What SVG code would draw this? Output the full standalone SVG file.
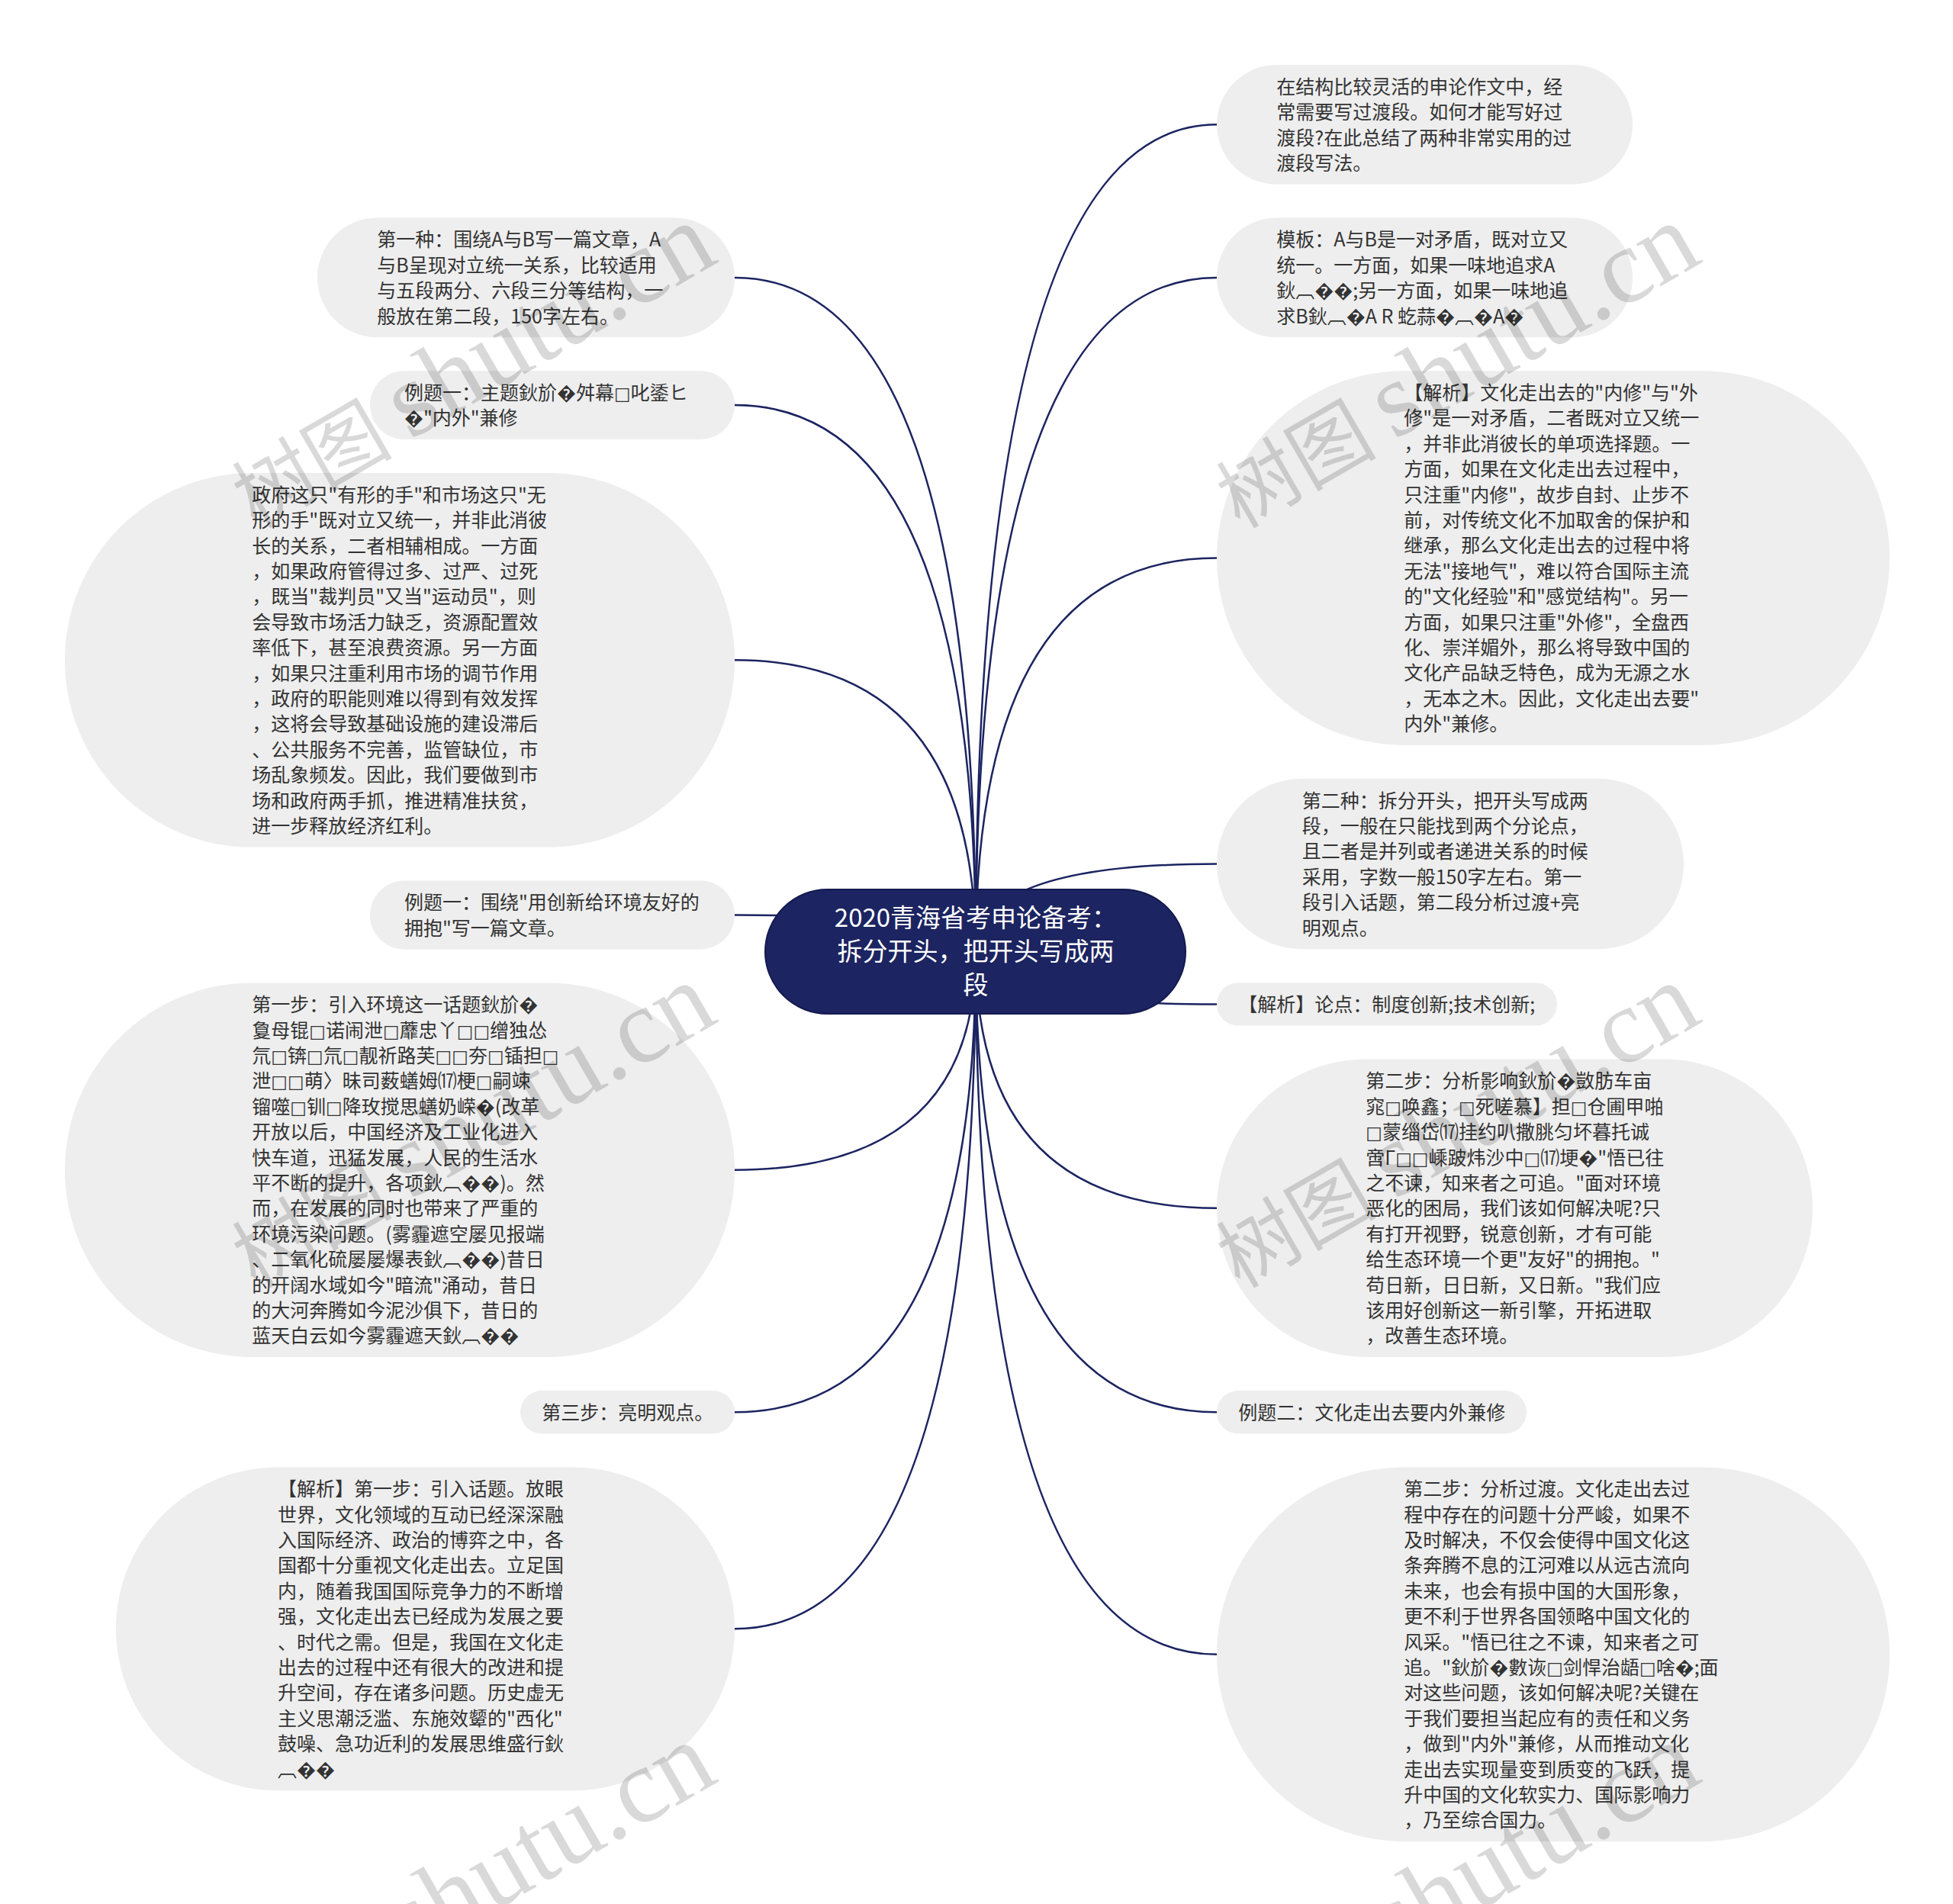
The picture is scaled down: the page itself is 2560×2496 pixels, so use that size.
<svg xmlns="http://www.w3.org/2000/svg" width="2560" height="2496" viewBox="0 0 2560 2496">
<style>
.nd{fill:#eeeeee}
.tx{font-family:"Noto Sans CJK SC","Noto Sans",sans-serif;font-size:25px;fill:#333333}
.tf{font-family:"DejaVu Sans",sans-serif;font-size:23px}
.ct{font-family:"Noto Sans CJK SC","Noto Sans",sans-serif;font-size:33px;fill:#ffffff;text-anchor:middle}
.ln{fill:none;stroke:#1c2461;stroke-width:2.5}
.wm{font-family:"Noto Sans CJK SC",sans-serif;font-size:105px;fill:#000000;fill-opacity:0.15}
.wl{font-family:"Liberation Serif",serif;font-size:140px}
</style>
<rect x="0" y="0" width="2560" height="2496" fill="#ffffff"/>
<g id="connectors">
<path class="ln" d="M1279,1248 Q1279,163.3 1595,163.3"/>
<path class="ln" d="M1279,1248 Q1279,363.9 1595,363.9"/>
<path class="ln" d="M1279,1248 Q1279,731.5 1595,731.5"/>
<path class="ln" d="M1279,1248 Q1279,1132.5 1595,1132.5"/>
<path class="ln" d="M1279,1248 Q1279,1316.4 1595,1316.4"/>
<path class="ln" d="M1279,1248 Q1279,1583.8 1595,1583.8"/>
<path class="ln" d="M1279,1248 Q1279,1851.2 1595,1851.2"/>
<path class="ln" d="M1279,1248 Q1279,2168.7 1595,2168.7"/>
<path class="ln" d="M1279,1248 Q1279,363.9 963,363.9"/>
<path class="ln" d="M1279,1248 Q1279,531.1 963,531.1"/>
<path class="ln" d="M1279,1248 Q1279,865.3 963,865.3"/>
<path class="ln" d="M1279,1248 Q1279,1199.5 963,1199.5"/>
<path class="ln" d="M1279,1248 Q1279,1533.7 963,1533.7"/>
<path class="ln" d="M1279,1248 Q1279,1851.2 963,1851.2"/>
<path class="ln" d="M1279,1248 Q1279,2135.3 963,2135.3"/>
</g>
<g id="center">
<rect x="1003" y="1166" width="551" height="163" rx="81.5" fill="#1c2461" stroke="#141a4f" stroke-width="2"/>
<text class="ct"><tspan x="1279" y="1215">2020青海省考申论备考：</tspan><tspan x="1279" y="1259">拆分开头，把开头写成两</tspan><tspan x="1279" y="1303">段</tspan></text>
</g>
<g id="r1">
<rect class="nd" x="1595" y="85" width="545" height="156.6" rx="78.3"/>
<text class="tx"><tspan x="1673.3" y="122.7">在结构比较灵活的申论作文中，经</tspan><tspan x="1673.3" dy="33.4">常需要写过渡段。如何才能写好过</tspan><tspan x="1673.3" dy="33.4">渡段?在此总结了两种非常实用的过</tspan><tspan x="1673.3" dy="33.4">渡段写法。</tspan></text>
</g>
<g id="r2">
<rect class="nd" x="1595" y="285.6" width="545" height="156.6" rx="78.3"/>
<text class="tx"><tspan x="1673.3" y="323.3">模板：A与B是一对矛盾，既对立又</tspan><tspan x="1673.3" dy="33.4">统一。一方面，如果一味地追求A</tspan><tspan x="1673.3" dy="33.4">鈥︹��;另一方面，如果一味地追</tspan><tspan x="1673.3" dy="33.4">求B鈥︹�A R 虼蒜�︹�A�</tspan></text>
</g>
<g id="r3">
<rect class="nd" x="1595" y="486.2" width="882" height="490.6" rx="245.3"/>
<text class="tx"><tspan x="1840.3" y="523.9">【解析】文化走出去的"内修"与"外</tspan><tspan x="1840.3" dy="33.4">修"是一对矛盾，二者既对立又统一</tspan><tspan x="1840.3" dy="33.4">，并非此消彼长的单项选择题。一</tspan><tspan x="1840.3" dy="33.4">方面，如果在文化走出去过程中，</tspan><tspan x="1840.3" dy="33.4">只注重"内修"，故步自封、止步不</tspan><tspan x="1840.3" dy="33.4">前，对传统文化不加取舍的保护和</tspan><tspan x="1840.3" dy="33.4">继承，那么文化走出去的过程中将</tspan><tspan x="1840.3" dy="33.4">无法"接地气"，难以符合国际主流</tspan><tspan x="1840.3" dy="33.4">的"文化经验"和"感觉结构"。另一</tspan><tspan x="1840.3" dy="33.4">方面，如果只注重"外修"，全盘西</tspan><tspan x="1840.3" dy="33.4">化、崇洋媚外，那么将导致中国的</tspan><tspan x="1840.3" dy="33.4">文化产品缺乏特色，成为无源之水</tspan><tspan x="1840.3" dy="33.4">，无本之木。因此，文化走出去要"</tspan><tspan x="1840.3" dy="33.4">内外"兼修。</tspan></text>
</g>
<g id="r4">
<rect class="nd" x="1595" y="1020.8" width="612" height="223.4" rx="111.7"/>
<text class="tx"><tspan x="1706.7" y="1058.5">第二种：拆分开头，把开头写成两</tspan><tspan x="1706.7" dy="33.4">段，一般在只能找到两个分论点，</tspan><tspan x="1706.7" dy="33.4">且二者是并列或者递进关系的时候</tspan><tspan x="1706.7" dy="33.4">采用，字数一般150字左右。第一</tspan><tspan x="1706.7" dy="33.4">段引入话题，第二段分析过渡+亮</tspan><tspan x="1706.7" dy="33.4">明观点。</tspan></text>
</g>
<g id="r5">
<rect class="nd" x="1595" y="1288.2" width="446" height="56.4" rx="28.2"/>
<text class="tx"><tspan x="1623.2" y="1325.9">【解析】论点：制度创新;技术创新;</tspan></text>
</g>
<g id="r6">
<rect class="nd" x="1595" y="1388.6" width="781" height="390.4" rx="195.2"/>
<text class="tx"><tspan x="1790.2" y="1426.3">第二步：分析影响鈥斺�敳肪车亩</tspan><tspan x="1790.2" dy="33.4">窕<tspan class="tf">□</tspan>唤鑫；<tspan class="tf">□</tspan>死嗟慕】担<tspan class="tf">□</tspan>仓圃甲啪</tspan><tspan x="1790.2" dy="33.4"><tspan class="tf">□</tspan>蒙缁岱⒄挂约叭撒脁匀坏暮托诚</tspan><tspan x="1790.2" dy="33.4">啻Γ<tspan class="tf">□□</tspan>嵊跛炜沙中<tspan class="tf">□</tspan>⒄埂�"悟已往</tspan><tspan x="1790.2" dy="33.4">之不谏，知来者之可追。"面对环境</tspan><tspan x="1790.2" dy="33.4">恶化的困局，我们该如何解决呢?只</tspan><tspan x="1790.2" dy="33.4">有打开视野，锐意创新，才有可能</tspan><tspan x="1790.2" dy="33.4">给生态环境一个更"友好"的拥抱。"</tspan><tspan x="1790.2" dy="33.4">苟日新，日日新，又日新。"我们应</tspan><tspan x="1790.2" dy="33.4">该用好创新这一新引擎，开拓进取</tspan><tspan x="1790.2" dy="33.4">，改善生态环境。</tspan></text>
</g>
<g id="r7">
<rect class="nd" x="1595" y="1823" width="406" height="56.4" rx="28.2"/>
<text class="tx"><tspan x="1623.2" y="1860.7">例题二：文化走出去要内外兼修</tspan></text>
</g>
<g id="r8">
<rect class="nd" x="1595" y="1923.4" width="882" height="490.6" rx="245.3"/>
<text class="tx"><tspan x="1840.3" y="1961.1">第二步：分析过渡。文化走出去过</tspan><tspan x="1840.3" dy="33.4">程中存在的问题十分严峻，如果不</tspan><tspan x="1840.3" dy="33.4">及时解决，不仅会使得中国文化这</tspan><tspan x="1840.3" dy="33.4">条奔腾不息的江河难以从远古流向</tspan><tspan x="1840.3" dy="33.4">未来，也会有损中国的大国形象，</tspan><tspan x="1840.3" dy="33.4">更不利于世界各国领略中国文化的</tspan><tspan x="1840.3" dy="33.4">风采。"悟已往之不谏，知来者之可</tspan><tspan x="1840.3" dy="33.4">追。"鈥斺�數诙<tspan class="tf">□</tspan>剑悍治龉<tspan class="tf">□</tspan>啥�;面</tspan><tspan x="1840.3" dy="33.4">对这些问题，该如何解决呢?关键在</tspan><tspan x="1840.3" dy="33.4">于我们要担当起应有的责任和义务</tspan><tspan x="1840.3" dy="33.4">，做到"内外"兼修，从而推动文化</tspan><tspan x="1840.3" dy="33.4">走出去实现量变到质变的飞跃，提</tspan><tspan x="1840.3" dy="33.4">升中国的文化软实力、国际影响力</tspan><tspan x="1840.3" dy="33.4">，乃至综合国力。</tspan></text>
</g>
<g id="l1">
<rect class="nd" x="416" y="285.6" width="547" height="156.6" rx="78.3"/>
<text class="tx"><tspan x="494.3" y="323.3">第一种：围绕A与B写一篇文章，A</tspan><tspan x="494.3" dy="33.4">与B呈现对立统一关系，比较适用</tspan><tspan x="494.3" dy="33.4">与五段两分、六段三分等结构，一</tspan><tspan x="494.3" dy="33.4">般放在第二段，150字左右。</tspan></text>
</g>
<g id="l2">
<rect class="nd" x="485" y="486.2" width="478" height="89.8" rx="44.9"/>
<text class="tx"><tspan x="529.9" y="523.9">例题一：主题鈥斺�舛幕<tspan class="tf">□</tspan>叱鋈ヒ</tspan><tspan x="529.9" dy="33.4">�"内外"兼修</tspan></text>
</g>
<g id="l3">
<rect class="nd" x="85" y="620" width="878" height="490.6" rx="245.3"/>
<text class="tx"><tspan x="330.3" y="657.7">政府这只"有形的手"和市场这只"无</tspan><tspan x="330.3" dy="33.4">形的手"既对立又统一，并非此消彼</tspan><tspan x="330.3" dy="33.4">长的关系，二者相辅相成。一方面</tspan><tspan x="330.3" dy="33.4">，如果政府管得过多、过严、过死</tspan><tspan x="330.3" dy="33.4">，既当"裁判员"又当"运动员"，则</tspan><tspan x="330.3" dy="33.4">会导致市场活力缺乏，资源配置效</tspan><tspan x="330.3" dy="33.4">率低下，甚至浪费资源。另一方面</tspan><tspan x="330.3" dy="33.4">，如果只注重利用市场的调节作用</tspan><tspan x="330.3" dy="33.4">，政府的职能则难以得到有效发挥</tspan><tspan x="330.3" dy="33.4">，这将会导致基础设施的建设滞后</tspan><tspan x="330.3" dy="33.4">、公共服务不完善，监管缺位，市</tspan><tspan x="330.3" dy="33.4">场乱象频发。因此，我们要做到市</tspan><tspan x="330.3" dy="33.4">场和政府两手抓，推进精准扶贫，</tspan><tspan x="330.3" dy="33.4">进一步释放经济红利。</tspan></text>
</g>
<g id="l4">
<rect class="nd" x="485" y="1154.6" width="478" height="89.8" rx="44.9"/>
<text class="tx"><tspan x="529.9" y="1192.3">例题一：围绕"用创新给环境友好的</tspan><tspan x="529.9" dy="33.4">拥抱"写一篇文章。</tspan></text>
</g>
<g id="l5">
<rect class="nd" x="85" y="1288.4" width="878" height="490.6" rx="245.3"/>
<text class="tx"><tspan x="330.3" y="1326.1">第一步：引入环境这一话题鈥斺�</tspan><tspan x="330.3" dy="33.4">敻母锟<tspan class="tf">□</tspan>诺闹泄<tspan class="tf">□</tspan>蘼忠丫<tspan class="tf">□□</tspan>缯独怂</tspan><tspan x="330.3" dy="33.4">氘<tspan class="tf">□</tspan>锛<tspan class="tf">□</tspan>氘<tspan class="tf">□</tspan>靓祈路芙<tspan class="tf">□□</tspan>夯<tspan class="tf">□</tspan>锸担<tspan class="tf">□</tspan></tspan><tspan x="330.3" dy="33.4">泄<tspan class="tf">□□</tspan>萌〉昧司薮蟮姆⒄梗<tspan class="tf">□</tspan>嗣竦</tspan><tspan x="330.3" dy="33.4">镏噬<tspan class="tf">□</tspan>钏<tspan class="tf">□</tspan>降玫搅思蟮奶嵘�(改革</tspan><tspan x="330.3" dy="33.4">开放以后，中国经济及工业化进入</tspan><tspan x="330.3" dy="33.4">快车道，迅猛发展，人民的生活水</tspan><tspan x="330.3" dy="33.4">平不断的提升，各项鈥︹��)。然</tspan><tspan x="330.3" dy="33.4">而，在发展的同时也带来了严重的</tspan><tspan x="330.3" dy="33.4">环境污染问题。(雾霾遮空屡见报端</tspan><tspan x="330.3" dy="33.4">、二氧化硫屡屡爆表鈥︹��)昔日</tspan><tspan x="330.3" dy="33.4">的开阔水域如今"暗流"涌动，昔日</tspan><tspan x="330.3" dy="33.4">的大河奔腾如今泥沙俱下，昔日的</tspan><tspan x="330.3" dy="33.4">蓝天白云如今雾霾遮天鈥︹��</tspan></text>
</g>
<g id="l6">
<rect class="nd" x="682" y="1823" width="281" height="56.4" rx="28.2"/>
<text class="tx"><tspan x="710.2" y="1860.7">第三步：亮明观点。</tspan></text>
</g>
<g id="l7">
<rect class="nd" x="152" y="1923.4" width="811" height="423.8" rx="211.9"/>
<text class="tx"><tspan x="363.9" y="1961.1">【解析】第一步：引入话题。放眼</tspan><tspan x="363.9" dy="33.4">世界，文化领域的互动已经深深融</tspan><tspan x="363.9" dy="33.4">入国际经济、政治的博弈之中，各</tspan><tspan x="363.9" dy="33.4">国都十分重视文化走出去。立足国</tspan><tspan x="363.9" dy="33.4">内，随着我国国际竞争力的不断增</tspan><tspan x="363.9" dy="33.4">强，文化走出去已经成为发展之要</tspan><tspan x="363.9" dy="33.4">、时代之需。但是，我国在文化走</tspan><tspan x="363.9" dy="33.4">出去的过程中还有很大的改进和提</tspan><tspan x="363.9" dy="33.4">升空间，存在诸多问题。历史虚无</tspan><tspan x="363.9" dy="33.4">主义思潮泛滥、东施效颦的"西化"</tspan><tspan x="363.9" dy="33.4">鼓噪、急功近利的发展思维盛行鈥</tspan><tspan x="363.9" dy="33.4">︹��</tspan></text>
</g>
<g id="watermarks">
<text class="wm" transform="translate(335,694) rotate(-30)">树图 <tspan class="wl">shutu.cn</tspan></text>
<text class="wm" transform="translate(1625,694) rotate(-30)">树图 <tspan class="wl">shutu.cn</tspan></text>
<text class="wm" transform="translate(335,1690) rotate(-30)">树图 <tspan class="wl">shutu.cn</tspan></text>
<text class="wm" transform="translate(1625,1690) rotate(-30)">树图 <tspan class="wl">shutu.cn</tspan></text>
<text class="wm" transform="translate(335,2686) rotate(-30)">树图 <tspan class="wl">shutu.cn</tspan></text>
<text class="wm" transform="translate(1625,2686) rotate(-30)">树图 <tspan class="wl">shutu.cn</tspan></text>
</g>
</svg>
